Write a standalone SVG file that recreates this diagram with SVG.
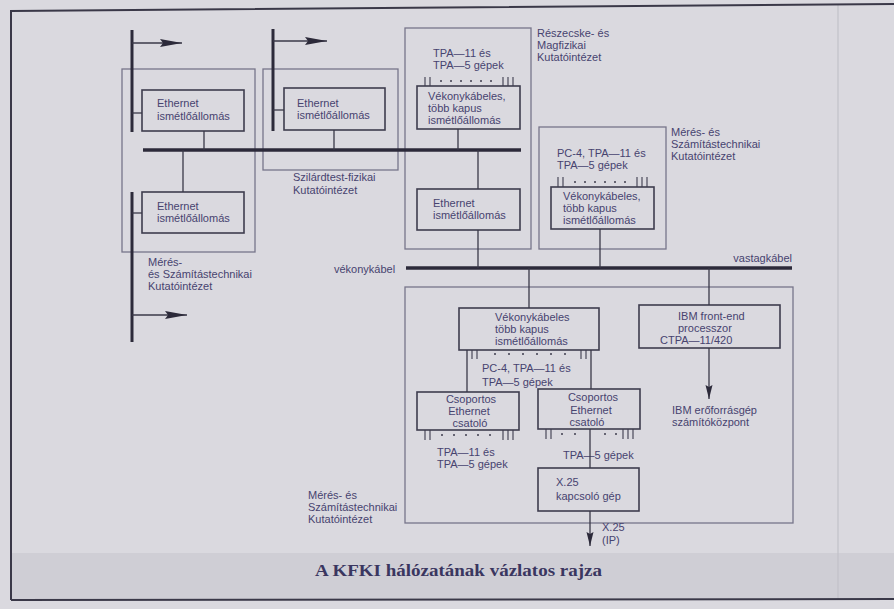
<svg xmlns="http://www.w3.org/2000/svg" width="894" height="609" viewBox="0 0 894 609">
<defs>
<style>
.bg{fill:#dad9df}
.t{font-family:"Liberation Sans",Arial,sans-serif;font-size:11px;fill:#47436f}
.cap{font-family:"Liberation Serif","Times New Roman",serif;font-size:17px;font-weight:bold;fill:#3a3660}
.grp{fill:none;stroke:#77758a;stroke-width:1.3}
.box{fill:none;stroke:#3e3c4e;stroke-width:1.6}
.ln{fill:none;stroke:#3a3848;stroke-width:1.3}
.bus{fill:none;stroke:#2c2a3a;stroke-width:3.5}
.vbus{fill:none;stroke:#2c2a3a;stroke-width:3}
.tk{fill:none;stroke:#3e3c4e;stroke-width:1.1}
.dot{fill:#3e3c4e}
</style>
<marker id="ah" markerUnits="userSpaceOnUse" markerWidth="24" markerHeight="10" refX="22" refY="5" orient="auto">
<path d="M0,1 L22,5 L0,9 L3,5 z" fill="#2c2a3a"/>
</marker>
<marker id="av" markerUnits="userSpaceOnUse" markerWidth="16" markerHeight="8" refX="14" refY="4" orient="auto">
<path d="M0,0.5 L14,4 L0,7.5 L2,4 z" fill="#2c2a3a"/>
</marker>
</defs>
<rect class="bg" x="0" y="0" width="894" height="609"/>
<rect x="12" y="553" width="882" height="46" fill="#cfced5"/>
<line x1="838" y1="4" x2="838" y2="599" stroke="#c2c1c9" stroke-width="1.2"/>
<polyline points="11,600 11,11 894,4" fill="none" stroke="#3a3848" stroke-width="2"/>
<line x1="11" y1="600" x2="894" y2="599" stroke="#3a3848" stroke-width="2"/>

<!-- group outlines -->
<g id="inst-meres-left">
<rect class="grp" x="122" y="69" width="133" height="183"/>
<text class="t" x="148" y="266">Mérés-</text>
<text class="t" x="148" y="278">és Számítástechnikai</text>
<text class="t" x="148" y="290">Kutatóintézet</text>
</g>
<g id="inst-szilard">
<rect class="grp" x="263" y="69" width="135" height="101"/>
<text class="t" x="293" y="181">Szilárdtest-fizikai</text>
<text class="t" x="293" y="194">Kutatóintézet</text>
</g>
<g id="inst-reszecske">
<rect class="grp" x="405" y="28" width="126" height="221"/>
<text class="t" x="537" y="37">Részecske- és</text>
<text class="t" x="537" y="49">Magfizikai</text>
<text class="t" x="537" y="61">Kutatóintézet</text>
</g>
<g id="inst-meres-right">
<rect class="grp" x="539" y="127" width="127" height="122"/>
<text class="t" x="671" y="136">Mérés- és</text>
<text class="t" x="671" y="148">Számítástechnikai</text>
<text class="t" x="671" y="160">Kutatóintézet</text>
</g>
<g id="inst-meres-bottom">
<rect class="grp" x="405" y="287" width="388" height="236"/>
<text class="t" x="308" y="499">Mérés- és</text>
<text class="t" x="308" y="511">Számítástechnikai</text>
<text class="t" x="308" y="523">Kutatóintézet</text>
</g>

<!-- nodes -->
<g id="eth1">
<rect class="box" x="142" y="90" width="102" height="41"/>
<text class="t" x="157" y="107">Ethernet</text>
<text class="t" x="157" y="120">ismétlőállomás</text>
</g>
<g id="eth2">
<rect class="box" x="142" y="192" width="102" height="41"/>
<text class="t" x="157" y="210">Ethernet</text>
<text class="t" x="157" y="222">ismétlőállomás</text>
</g>
<g id="eth3">
<rect class="box" x="284" y="88" width="101" height="42"/>
<text class="t" x="297" y="107">Ethernet</text>
<text class="t" x="297" y="119">ismétlőállomás</text>
</g>
<g id="vk1">
<text class="t" x="433" y="57">TPA—11 és</text>
<text class="t" x="433" y="69">TPA—5 gépek</text>
<path class="tk" d="M425,77V86M430,77V86M503,77V86M508,77V86M513,77V86"/>
<g class="dot"><circle cx="441" cy="81" r="1"/><circle cx="451" cy="81" r="1"/><circle cx="461" cy="81" r="1"/><circle cx="471" cy="81" r="1"/><circle cx="481" cy="81" r="1"/><circle cx="491" cy="81" r="1"/></g>
<rect class="box" x="417" y="86" width="103" height="43"/>
<text class="t" x="428" y="100">Vékonykábeles,</text>
<text class="t" x="428" y="112">több kapus</text>
<text class="t" x="428" y="124">ismétlőállomás</text>
</g>
<g id="eth4">
<rect class="box" x="417" y="189" width="103" height="41"/>
<text class="t" x="433" y="207">Ethernet</text>
<text class="t" x="433" y="219">ismétlőállomás</text>
</g>
<g id="vk2">
<text class="t" x="557" y="157">PC-4, TPA—11 és</text>
<text class="t" x="557" y="169">TPA—5 gépek</text>
<path class="tk" d="M558,177V187M563,177V187M637,177V187M642,177V187M647,177V187"/>
<g class="dot"><circle cx="575" cy="182" r="1"/><circle cx="585" cy="182" r="1"/><circle cx="595" cy="182" r="1"/><circle cx="605" cy="182" r="1"/><circle cx="615" cy="182" r="1"/><circle cx="625" cy="182" r="1"/></g>
<rect class="box" x="551" y="187" width="103" height="42"/>
<text class="t" x="563" y="200">Vékonykábeles,</text>
<text class="t" x="563" y="212">több kapus</text>
<text class="t" x="563" y="224">ismétlőállomás</text>
</g>
<g id="vk3">
<rect class="box" x="459" y="308" width="140" height="42"/>
<text class="t" x="495" y="321">Vékonykábeles</text>
<text class="t" x="495" y="333">több kapus</text>
<text class="t" x="495" y="345">ismétlőállomás</text>
<path class="tk" d="M472,350V359M477,350V359M581,350V359M586,350V359"/>
<g class="dot"><circle cx="495" cy="354" r="1"/><circle cx="509" cy="354" r="1"/><circle cx="523" cy="354" r="1"/><circle cx="537" cy="354" r="1"/><circle cx="551" cy="354" r="1"/><circle cx="565" cy="354" r="1"/></g>
<text class="t" x="482" y="372">PC-4, TPA—11 és</text>
<text class="t" x="482" y="386">TPA—5 gépek</text>
</g>
<g id="ibm-fe">
<rect class="box" x="639" y="305" width="141" height="43"/>
<text class="t" x="678" y="320">IBM front-end</text>
<text class="t" x="678" y="332">processzor</text>
<text class="t" x="660" y="344">CTPA—11/420</text>
</g>
<g id="ibm-host">
<text class="t" x="672" y="414">IBM erőforrásgép</text>
<text class="t" x="672" y="426">számítóközpont</text>
</g>
<g id="csop1">
<rect class="box" x="417" y="392" width="102" height="38"/>
<text class="t" x="471" y="403" text-anchor="middle">Csoportos</text>
<text class="t" x="469" y="415" text-anchor="middle">Ethernet</text>
<text class="t" x="470" y="427" text-anchor="middle">csatoló</text>
<path class="tk" d="M425,430V440M430,430V440M503,430V440M508,430V440M513,430V440"/>
<g class="dot"><circle cx="442" cy="435" r="1"/><circle cx="454" cy="435" r="1"/><circle cx="466" cy="435" r="1"/><circle cx="478" cy="435" r="1"/><circle cx="490" cy="435" r="1"/></g>
<text class="t" x="437" y="456">TPA—11 és</text>
<text class="t" x="437" y="468">TPA—5 gépek</text>
</g>
<g id="csop2">
<rect class="box" x="538" y="389" width="102" height="40"/>
<text class="t" x="593" y="401" text-anchor="middle">Csoportos</text>
<text class="t" x="591" y="414" text-anchor="middle">Ethernet</text>
<text class="t" x="587" y="426" text-anchor="middle">csatoló</text>
<path class="tk" d="M546,429V439M551,429V439M623,429V439M628,429V439M633,429V439"/>
<g class="dot"><circle cx="562" cy="434" r="1"/><circle cx="575" cy="434" r="1"/><circle cx="605" cy="434" r="1"/><circle cx="616" cy="434" r="1"/></g>
<text class="t" x="563" y="459">TPA—5 gépek</text>
</g>
<g id="x25">
<rect class="box" x="538" y="468" width="101" height="43"/>
<text class="t" x="556" y="486">X.25</text>
<text class="t" x="556" y="500">kapcsoló gép</text>
</g>
<g id="x25-out">
<text class="t" x="602" y="531">X.25</text>
<text class="t" x="602" y="544">(IP)</text>
</g>

<!-- connectors -->
<g id="connectors">
<line class="vbus" x1="132" y1="30" x2="132" y2="132"/>
<line class="vbus" x1="132" y1="192" x2="132" y2="342"/>
<line class="vbus" x1="273" y1="29" x2="273" y2="131"/>
<line class="ln" x1="132" y1="43" x2="182" y2="43" marker-end="url(#ah)"/>
<line class="ln" x1="132" y1="315" x2="187" y2="315" marker-end="url(#ah)"/>
<line class="ln" x1="273" y1="41" x2="327" y2="41" marker-end="url(#ah)"/>
<line class="ln" x1="132" y1="113" x2="142" y2="113"/>
<line class="ln" x1="132" y1="213" x2="142" y2="213"/>
<line class="ln" x1="273" y1="110" x2="284" y2="110"/>
<line class="bus" x1="143" y1="150" x2="521" y2="150"/>
<line class="ln" x1="204" y1="131" x2="204" y2="150"/>
<line class="ln" x1="183" y1="150" x2="183" y2="192"/>
<line class="ln" x1="334" y1="130" x2="334" y2="150"/>
<line class="ln" x1="458" y1="129" x2="458" y2="150"/>
<line class="ln" x1="478" y1="150" x2="478" y2="189"/>
<line class="bus" x1="406" y1="268" x2="792" y2="268"/>
<text class="t" x="334" y="273">vékonykábel</text>
<text class="t" x="792" y="262" text-anchor="end">vastagkábel</text>
<line class="ln" x1="478" y1="230" x2="478" y2="268"/>
<line class="ln" x1="600" y1="229" x2="600" y2="268"/>
<line class="ln" x1="529" y1="268" x2="529" y2="308"/>
<line class="ln" x1="709" y1="268" x2="709" y2="305"/>
<line class="ln" x1="709" y1="348" x2="709" y2="399" marker-end="url(#av)"/>
<line class="ln" x1="467" y1="350" x2="467" y2="392"/>
<line class="ln" x1="591" y1="350" x2="591" y2="389"/>
<line class="ln" x1="590" y1="429" x2="590" y2="468"/>
<line class="ln" x1="590" y1="511" x2="590" y2="546" marker-end="url(#av)"/>
</g>

<text class="cap" x="315" y="576" textLength="287" lengthAdjust="spacingAndGlyphs">A KFKI hálózatának vázlatos rajza</text>
</svg>
